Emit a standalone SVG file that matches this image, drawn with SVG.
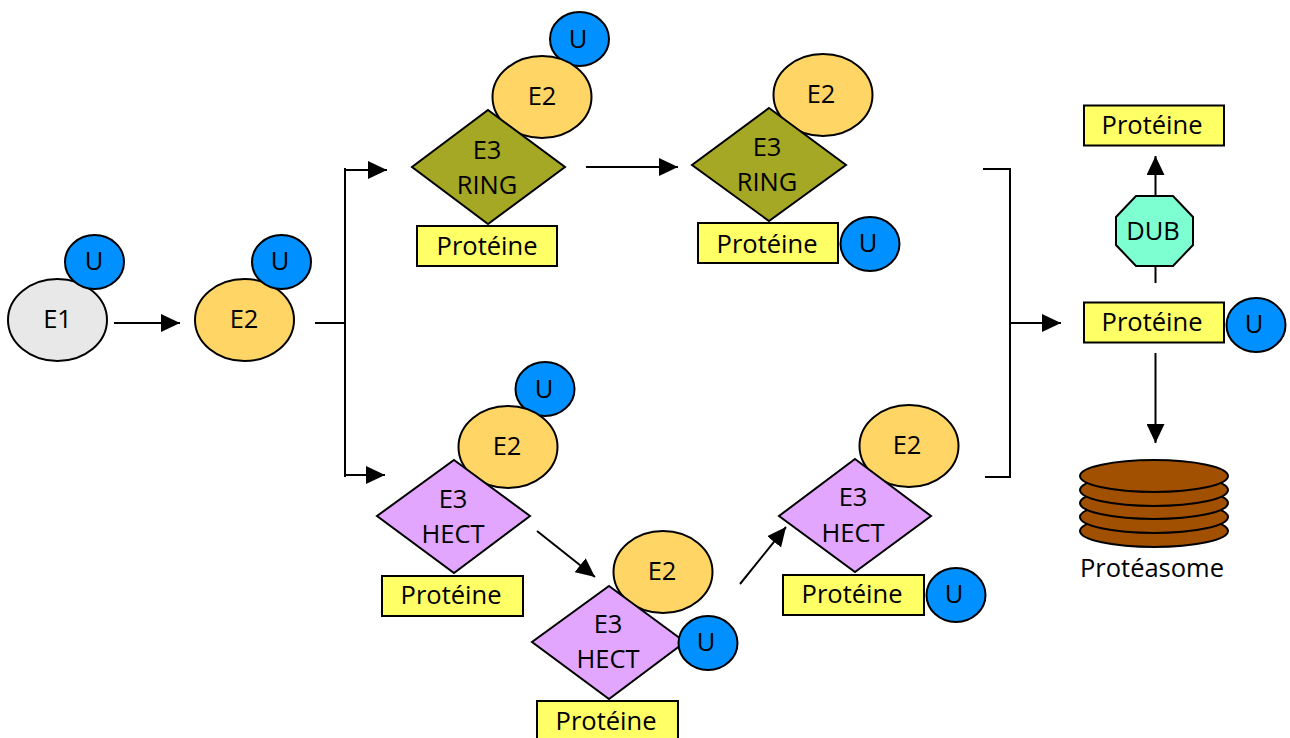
<svg xmlns="http://www.w3.org/2000/svg" width="1290" height="738" viewBox="0 0 1290 738">
<defs>
<marker id="a" markerUnits="userSpaceOnUse" markerWidth="20" markerHeight="18" refX="19" refY="9" orient="auto"><path d="M0 0L19 9L0 18Z" fill="#000"/></marker>
</defs>
<style>
text{font-family:"Open Sans","Liberation Sans",sans-serif;font-size:25.500px;fill:#000;text-anchor:middle}
.n{stroke:#000;stroke-width:2}
.u{fill:#0090ff}.e2{fill:#ffd566}.e1{fill:#e8e8e8}.r{fill:#a5a824}.h{fill:#e2a6ff}.p{fill:#ffff66}
.c{fill:none;stroke:#000;stroke-width:2}
</style>
<rect width="1290" height="738" fill="#fff"/>
<g id="connectors">
<path class="c" d="M114 323H180" marker-end="url(#a)"/>
<path class="c" d="M315 323H345"/>
<path class="c" d="M345 168V477"/>
<path class="c" d="M345 170H387" marker-end="url(#a)"/>
<path class="c" d="M345 475H385" marker-end="url(#a)"/>
<path class="c" d="M586 167H678" marker-end="url(#a)"/>
<path class="c" d="M537 531L595 577" marker-end="url(#a)"/>
<path class="c" d="M740 584L786 527" marker-end="url(#a)"/>
<path class="c" d="M983 169H1010V477H985"/>
<path class="c" d="M1010 323H1061" marker-end="url(#a)"/>
<path class="c" d="M1155.500 353V443" marker-end="url(#a)"/>
<path class="c" d="M1155.500 283V156" marker-end="url(#a)"/>
</g>
<g id="e1"><ellipse class="n e1" cx="57.500" cy="320" rx="49.500" ry="41"/><text x="57.500" y="328">E1</text></g>
<g id="u1"><ellipse class="n u" cx="94.500" cy="262" rx="29.500" ry="27"/><text x="94" y="270">U</text></g>
<g id="e2a"><ellipse class="n e2" cx="244.500" cy="320" rx="49.500" ry="41"/><text x="244" y="328">E2</text></g>
<g id="u2"><ellipse class="n u" cx="281.500" cy="262" rx="29.500" ry="27"/><text x="280" y="270">U</text></g>

<g id="u3"><ellipse class="n u" cx="579.500" cy="39" rx="29.500" ry="27"/><text x="578" y="48">U</text></g>
<g id="e2b"><ellipse class="n e2" cx="542" cy="97" rx="49.500" ry="41"/><text x="542" y="105">E2</text></g>
<g id="ring1"><path class="n r" d="M488 110L565 167L488 224L412 167Z"/><text x="487" y="159">E3</text><text x="487" y="194">RING</text></g>
<g id="p1"><rect class="n p" x="417" y="226" width="140" height="40"/><text x="487" y="255">Protéine</text></g>

<g id="e2c"><ellipse class="n e2" cx="823" cy="95" rx="49.500" ry="41"/><text x="821" y="103">E2</text></g>
<g id="ring2"><path class="n r" d="M769 108L846 165L769 221L692 165Z"/><text x="767" y="156">E3</text><text x="767" y="191">RING</text></g>
<g id="p2"><rect class="n p" x="698" y="223" width="140" height="40"/><text x="767" y="253">Protéine</text></g>
<g id="u4"><ellipse class="n u" cx="870" cy="244" rx="29.500" ry="27"/><text x="868" y="252">U</text></g>

<g id="u5"><ellipse class="n u" cx="545" cy="389" rx="29.500" ry="27"/><text x="544" y="398">U</text></g>
<g id="e2d"><ellipse class="n e2" cx="508" cy="447" rx="49.500" ry="41"/><text x="507" y="455">E2</text></g>
<g id="hect1"><path class="n h" d="M454 460L530 516L454 573L377 516Z"/><text x="453" y="508">E3</text><text x="453" y="543">HECT</text></g>
<g id="p3"><rect class="n p" x="382" y="576" width="141" height="40"/><text x="451" y="604">Protéine</text></g>

<g id="e2e"><ellipse class="n e2" cx="663" cy="572" rx="49.500" ry="41"/><text x="662" y="580">E2</text></g>
<g id="hect2"><path class="n h" d="M609 586L685 642L609 699L532 642Z"/><text x="608" y="633">E3</text><text x="608" y="668">HECT</text></g>
<g id="u6"><ellipse class="n u" cx="708" cy="643" rx="29.500" ry="27"/><text x="706" y="651">U</text></g>
<g id="p4"><rect class="n p" x="537" y="701" width="141" height="40"/><text x="606" y="730">Protéine</text></g>

<g id="e2f"><ellipse class="n e2" cx="909" cy="446" rx="49.500" ry="41"/><text x="907" y="454">E2</text></g>
<g id="hect3"><path class="n h" d="M855 459L931 516L855 572L779 516Z"/><text x="853" y="506">E3</text><text x="853" y="542">HECT</text></g>
<g id="p5"><rect class="n p" x="783" y="575" width="141" height="40"/><text x="852" y="603">Protéine</text></g>
<g id="u7"><ellipse class="n u" cx="956" cy="595" rx="29.500" ry="27"/><text x="954" y="603">U</text></g>

<g id="p6"><rect class="n p" x="1084" y="105.500" width="140" height="40"/><text x="1152" y="134">Protéine</text></g>
<g id="dub"><path class="n" fill="#7dffd2" d="M1136 196H1173L1193 217V245L1173 266H1136L1116 245V217Z"/><text x="1153" y="240">DUB</text></g>
<g id="p7"><rect class="n p" x="1084" y="302.500" width="140" height="40"/><text x="1152" y="331">Protéine</text></g>
<g id="u8"><ellipse class="n u" cx="1256" cy="325" rx="29.500" ry="27"/><text x="1254" y="333">U</text></g>

<g id="proteasome">
<ellipse class="n" fill="#a05000" cx="1154" cy="531" rx="74" ry="16"/>
<ellipse class="n" fill="#a05000" cx="1154" cy="517" rx="74" ry="16"/>
<ellipse class="n" fill="#a05000" cx="1154" cy="503" rx="74" ry="16"/>
<ellipse class="n" fill="#a05000" cx="1154" cy="490" rx="74" ry="16"/>
<ellipse class="n" fill="#a05000" cx="1154" cy="476" rx="74" ry="16"/>
<text x="1152" y="577">Protéasome</text>
</g>
</svg>
